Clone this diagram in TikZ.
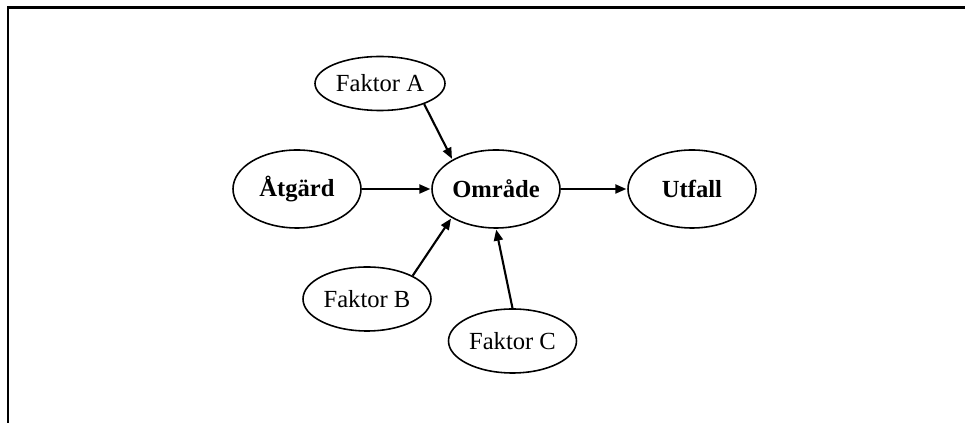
\documentclass[tikz,border=0pt]{standalone}
\usepackage{fontspec}
\setmainfont{Liberation Serif}
\usepackage{tikz}
\usetikzlibrary{arrows.meta,shapes.geometric,positioning}

\begin{document}
\begin{tikzpicture}[->,>={Triangle[length=2.2mm,width=1.8mm]},semithick,
    font=\fontsize{14}{17}\selectfont,
    blob/.style={draw, ellipse, line width=0.9pt, inner sep=0pt},
    mainblob/.style={blob, minimum width=2.56cm, minimum height=1.56cm, font=\fontsize{14}{17}\selectfont\bfseries},
    factor/.style={blob, minimum width=2.56cm, minimum height=1.28cm},
    link/.style={line width=1.2pt, shorten >=0.5pt}]
    \useasboundingbox (0,0) rectangle (19.3,8.46);
    % open frame, only left and top edges
    \draw[-, line width=1.6pt] (0.16,0) -- (0.16,8.31) -- (19.3,8.31);
    \node[mainblob] (atg) at (5.94, 4.68) {Åtgärd};
    \node[mainblob] (omr) at (9.92, 4.68) {Område};
    \node[mainblob] (utf) at (13.84, 4.68) {Utfall};
    \node[factor, minimum width=2.6cm, minimum height=1.08cm] (fa) at (7.60, 6.79) {Faktor A};
    \node[factor] (fb) at (7.34, 2.48) {Faktor B};
    \node[factor] (fc) at (10.25, 1.64) {Faktor C};
    \path[link] (atg) edge (omr);
    \path[link] (omr) edge (utf);
    \path[link] (fa.-25) edge (omr.146);
    \path[link] (fb.27) edge (omr.-147);
    \path[link] (fc.north) edge (omr.south);
\end{tikzpicture}
\end{document}
